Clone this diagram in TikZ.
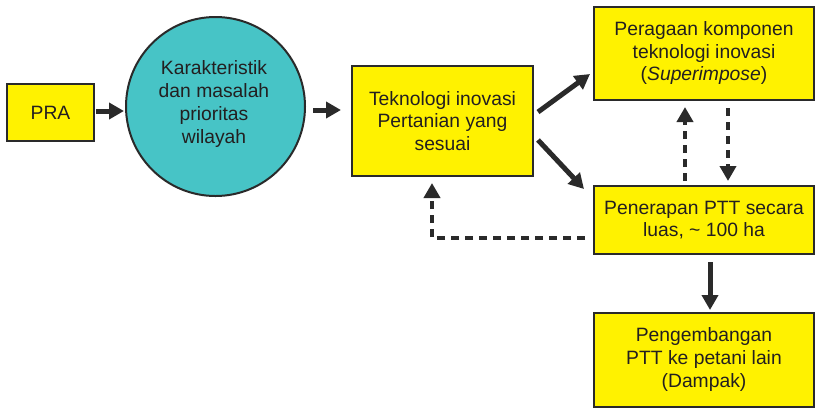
\documentclass[tikz,border=0pt]{standalone}
\usepackage{fontspec}
\setmainfont{Liberation Sans}
\usetikzlibrary{arrows.meta,calc}
\definecolor{boxyellow}{HTML}{FFF200}
\definecolor{circteal}{HTML}{47C4C6}
\definecolor{edge}{HTML}{2A2A2A}
\definecolor{txt}{HTML}{231F20}
\tikzset{
  ybox/.style={draw=edge, line width=2pt, fill=boxyellow, inner sep=0pt, align=center,
    text=txt, font=\fontsize{19.3}{22.5}\selectfont},
  arr/.style={draw=edge, line width=5pt, -{Triangle[length=15pt,width=16pt]}},
  darr/.style={draw=edge, line width=4pt, dash pattern=on 8pt off 6pt, -{Triangle[length=15pt,width=16pt]}},
}
\begin{document}
\begin{tikzpicture}[x=1pt,y=-1pt]
\useasboundingbox (0,0) rectangle (821,408);
\node[ybox, minimum width=87pt, minimum height=57pt] (pra) at (50.5,112.5) {PRA};
\node[draw=edge, line width=2pt, fill=circteal, circle, minimum size=179pt, inner sep=0pt] (circ) at (215.5,106.5) {};
\node[align=center, text=txt, font=\fontsize{19.3}{22.7}\selectfont, inner sep=0pt] (circtext) at (214,104) {Karakteristik\\dan masalah\\prioritas\\wilayah};
\node[ybox, minimum width=181pt, minimum height=110pt] (tek) at (442.5,121) {Teknologi inovasi\\Pertanian yang\\sesuai};
\node[ybox, minimum width=220pt, minimum height=93pt] (per) at (704,53.5) {Peragaan komponen\\teknologi inovasi\\(\textit{Superimpose})};
\node[ybox, minimum width=220pt, minimum height=68pt] (pen) at (704,220) {Penerapan PTT secara\\luas, \char"007E\ 100 ha};
\node[ybox, minimum width=220pt, minimum height=94pt] (peng) at (704,359.5) {Pengembangan\\PTT ke petani lain\\(Dampak)};

\coordinate (a1s) at (96,111);
\coordinate (a1e) at (124,111);
\draw[arr] (a1s) -- (a1e);
\coordinate (a2s) at (313,110);
\coordinate (a2e) at (341,110);
\draw[arr] (a2s) -- (a2e);
\coordinate (d1s) at (538,112);
\coordinate (d1e) at (590,74);
\draw[arr] (d1s) -- (d1e);
\coordinate (d2s) at (538,140);
\coordinate (d2e) at (584,189);
\draw[arr] (d2s) -- (d2e);
\coordinate (u1s) at (685,181);
\coordinate (u1e) at (685,107);
\draw[darr] (u1s) -- (u1e);
\coordinate (u2s) at (728,108);
\coordinate (u2e) at (728,181);
\draw[darr] (u2s) -- (u2e);
\coordinate (fb) at (585,238);
\coordinate (fbc) at (432,238);
\coordinate (fbe) at (432,183);
\draw[darr] (fb) -- (fbc) -- (fbe);
\coordinate (dn) at (710,262);
\coordinate (dne) at (710,310);
\draw[arr] (dn) -- (dne);
\end{tikzpicture}
\end{document}
